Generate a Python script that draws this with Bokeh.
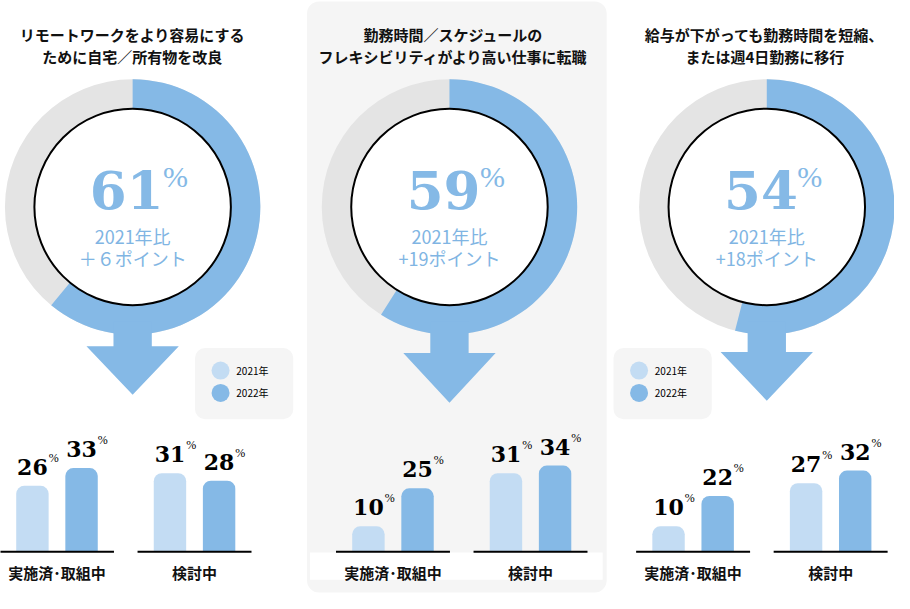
import math
from bokeh.plotting import figure
from bokeh.models import Range1d, ColumnDataSource
from bokeh.core.properties import value
from bokeh.embed import file_html
from bokeh.resources import INLINE

# ---------------- data ----------------
titles_line1 = ["リモートワークをより容易にする", "勤務時間／スケジュールの", "給与が下がっても勤務時間を短縮、"]
titles_line2 = ["ために自宅／所有物を改良", "フレキシビリティがより高い仕事に転職", "または週4日勤務に移行"]
share_2022 = [61, 59, 54]
compare_label = ["2021年比", "2021年比", "2021年比"]
point_change = ["＋６ポイント", "+19ポイント", "+18ポイント"]
categories = ["実施済･取組中", "検討中"]
series = ["2021年", "2022年"]
implemented_2021 = [26, 10, 10]
implemented_2022 = [33, 25, 22]
considering_2021 = [31, 31, 27]
considering_2022 = [28, 34, 32]

# ---------------- layout / style ----------------
REF_W, REF_H = 910, 609
def Y(r):
    return REF_H - r

BLUE = "#85b9e6"
LIGHT = "#c3dcf3"
GREY_RING = "#e4e4e4"
PANEL_BG = "#f5f5f5"
TEXT_BLUE = "#80b5e3"
JP = value("Noto Sans CJK JP")
SERIF = value("DejaVu Serif")
SERIF_THIN = value("Liberation Serif")

donut_cx = [134.5, 457.0, 780.0]
donut_cy = 212
title_cx = [134, 461, 778]
group_cx = [(57.5, 197.5), (399.5, 539.5), (705.0, 845.0)]
arrow_base = [355, 362, 361]
arrow_tip = [405, 413, 411]
legend_left = {0: 198, 2: 624}
BASE_Y = 566
PX_PER_PCT = 2.6

p = figure(width=894, height=593, x_range=Range1d(0, REF_W), y_range=Range1d(0, REF_H),
           output_backend="svg", toolbar_location=None,
           x_axis_location=None, y_axis_location=None, min_border=0,
           outline_line_color=None, background_fill_color="white")
p.grid.visible = False
p.extra_y_ranges = {"bars": Range1d(-(REF_H - BASE_Y) / PX_PER_PCT, BASE_Y / PX_PER_PCT)}

# middle panel background
p.quad(left=312, right=617, top=Y(1), bottom=Y(608), fill_color=PANEL_BG, line_color=None, border_radius=12)
p.quad(left=315, right=613, top=Y(567), bottom=Y(595), fill_color="white", line_color=None)

# donuts
cys = [Y(donut_cy)] * 3
p.annulus(x=donut_cx, y=cys, inner_radius=96, outer_radius=130, fill_color=GREY_RING, line_color=None)
end_angles = [math.pi / 2 - 2 * math.pi * s / 100 for s in share_2022]
p.annular_wedge(x=donut_cx, y=cys, inner_radius=96, outer_radius=130,
                start_angle=[math.pi / 2] * 3, end_angle=end_angles, direction="clock",
                fill_color=BLUE, line_color=None)

# arrows
xs, ys = [], []
for cx, hb, tip in zip(donut_cx, arrow_base, arrow_tip):
    xs.append([cx - 19.5, cx + 19.5, cx + 19.5, cx + 47, cx, cx - 47, cx - 19.5])
    ys.append([Y(330), Y(330), Y(hb), Y(hb), Y(tip), Y(hb), Y(hb)])
p.patches(xs, ys, fill_color=BLUE, line_color=None)

p.circle(x=donut_cx, y=cys, radius=100, fill_color="white", line_color="black", line_width=2)

# center texts
p.text(x=[c - 6 for c in donut_cx], y=[Y(195)] * 3, text=[str(s) for s in share_2022],
       text_font=SERIF, text_font_style="bold", text_font_size="53px", text_color=BLUE,
       text_align="center", text_baseline="middle")
p.text(x=[c + 31 for c in donut_cx], y=[Y(164)] * 3, text=["%"] * 3,
       text_font=SERIF_THIN, text_font_size="30px", text_color=BLUE,
       text_align="left", text_baseline="top")
p.text(x=donut_cx, y=[Y(242)] * 3, text=compare_label, text_font=JP, text_font_size="18px",
       text_color=TEXT_BLUE, text_align="center", text_baseline="middle")
p.text(x=donut_cx, y=[Y(264)] * 3, text=point_change, text_font=JP, text_font_size="18px",
       text_color=TEXT_BLUE, text_align="center", text_baseline="middle")

# titles
p.text(x=title_cx, y=[Y(35)] * 3, text=titles_line1, text_font=JP, text_font_style="bold",
       text_font_size="15px", text_color="#111111", text_align="center", text_baseline="middle")
p.text(x=title_cx, y=[Y(57)] * 3, text=titles_line2, text_font=JP, text_font_style="bold",
       text_font_size="15px", text_color="#111111", text_align="center", text_baseline="middle")

# bars
bx, btop, bcol = [], [], []
for i in range(3):
    g1, g2 = group_cx[i]
    for x, v, c in [(g1 - 25, implemented_2021[i], LIGHT), (g1 + 25, implemented_2022[i], BLUE),
                    (g2 - 25, considering_2021[i], LIGHT), (g2 + 25, considering_2022[i], BLUE)]:
        bx.append(x); btop.append(v); bcol.append(c)
bars = ColumnDataSource(dict(x=bx, top=btop, color=bcol, label=[str(v) for v in btop],
                             px=[x + 16.5 for x in bx]))
p.vbar(x="x", top="top", bottom=0, width=33, fill_color="color", line_color=None,
       border_radius=(8, 8, 0, 0), source=bars, y_range_name="bars")
p.text(x="x", y="top", text="label", source=bars, y_range_name="bars", y_offset=-19,
       text_font=SERIF, text_font_style="bold", text_font_size="22px", text_color="black",
       text_align="center", text_baseline="middle")
p.text(x="px", y="top", text=value("%"), source=bars, y_range_name="bars", y_offset=-35,
       text_font=SERIF_THIN, text_font_size="12px", text_color="black",
       text_align="left", text_baseline="top")

# baselines and category labels
gx = [g for pair in group_cx for g in pair]
p.segment(x0=[g - 58 for g in gx], x1=[g + 58 for g in gx], y0=[Y(BASE_Y)] * 6, y1=[Y(BASE_Y)] * 6,
          line_color="black", line_width=2)
p.text(x=gx, y=[Y(587)] * 6, text=categories * 3, text_font=JP, text_font_style="bold",
       text_font_size="15px", text_color="#111111", text_align="center", text_baseline="middle")

# legends
for i, left in legend_left.items():
    p.quad(left=left, right=left + 100, top=Y(357), bottom=Y(430), fill_color=PANEL_BG,
           line_color=None, border_radius=10)
    p.scatter(x=[left + 26, left + 26], y=[Y(380), Y(403)], size=18, color=[LIGHT, BLUE], line_color=None)
    p.text(x=[left + 42, left + 42], y=[Y(380), Y(403)], text=series, text_font=JP,
           text_font_size="10px", text_color="black", text_align="left", text_baseline="middle")

open("out.html", "w").write(file_html(p, INLINE))
